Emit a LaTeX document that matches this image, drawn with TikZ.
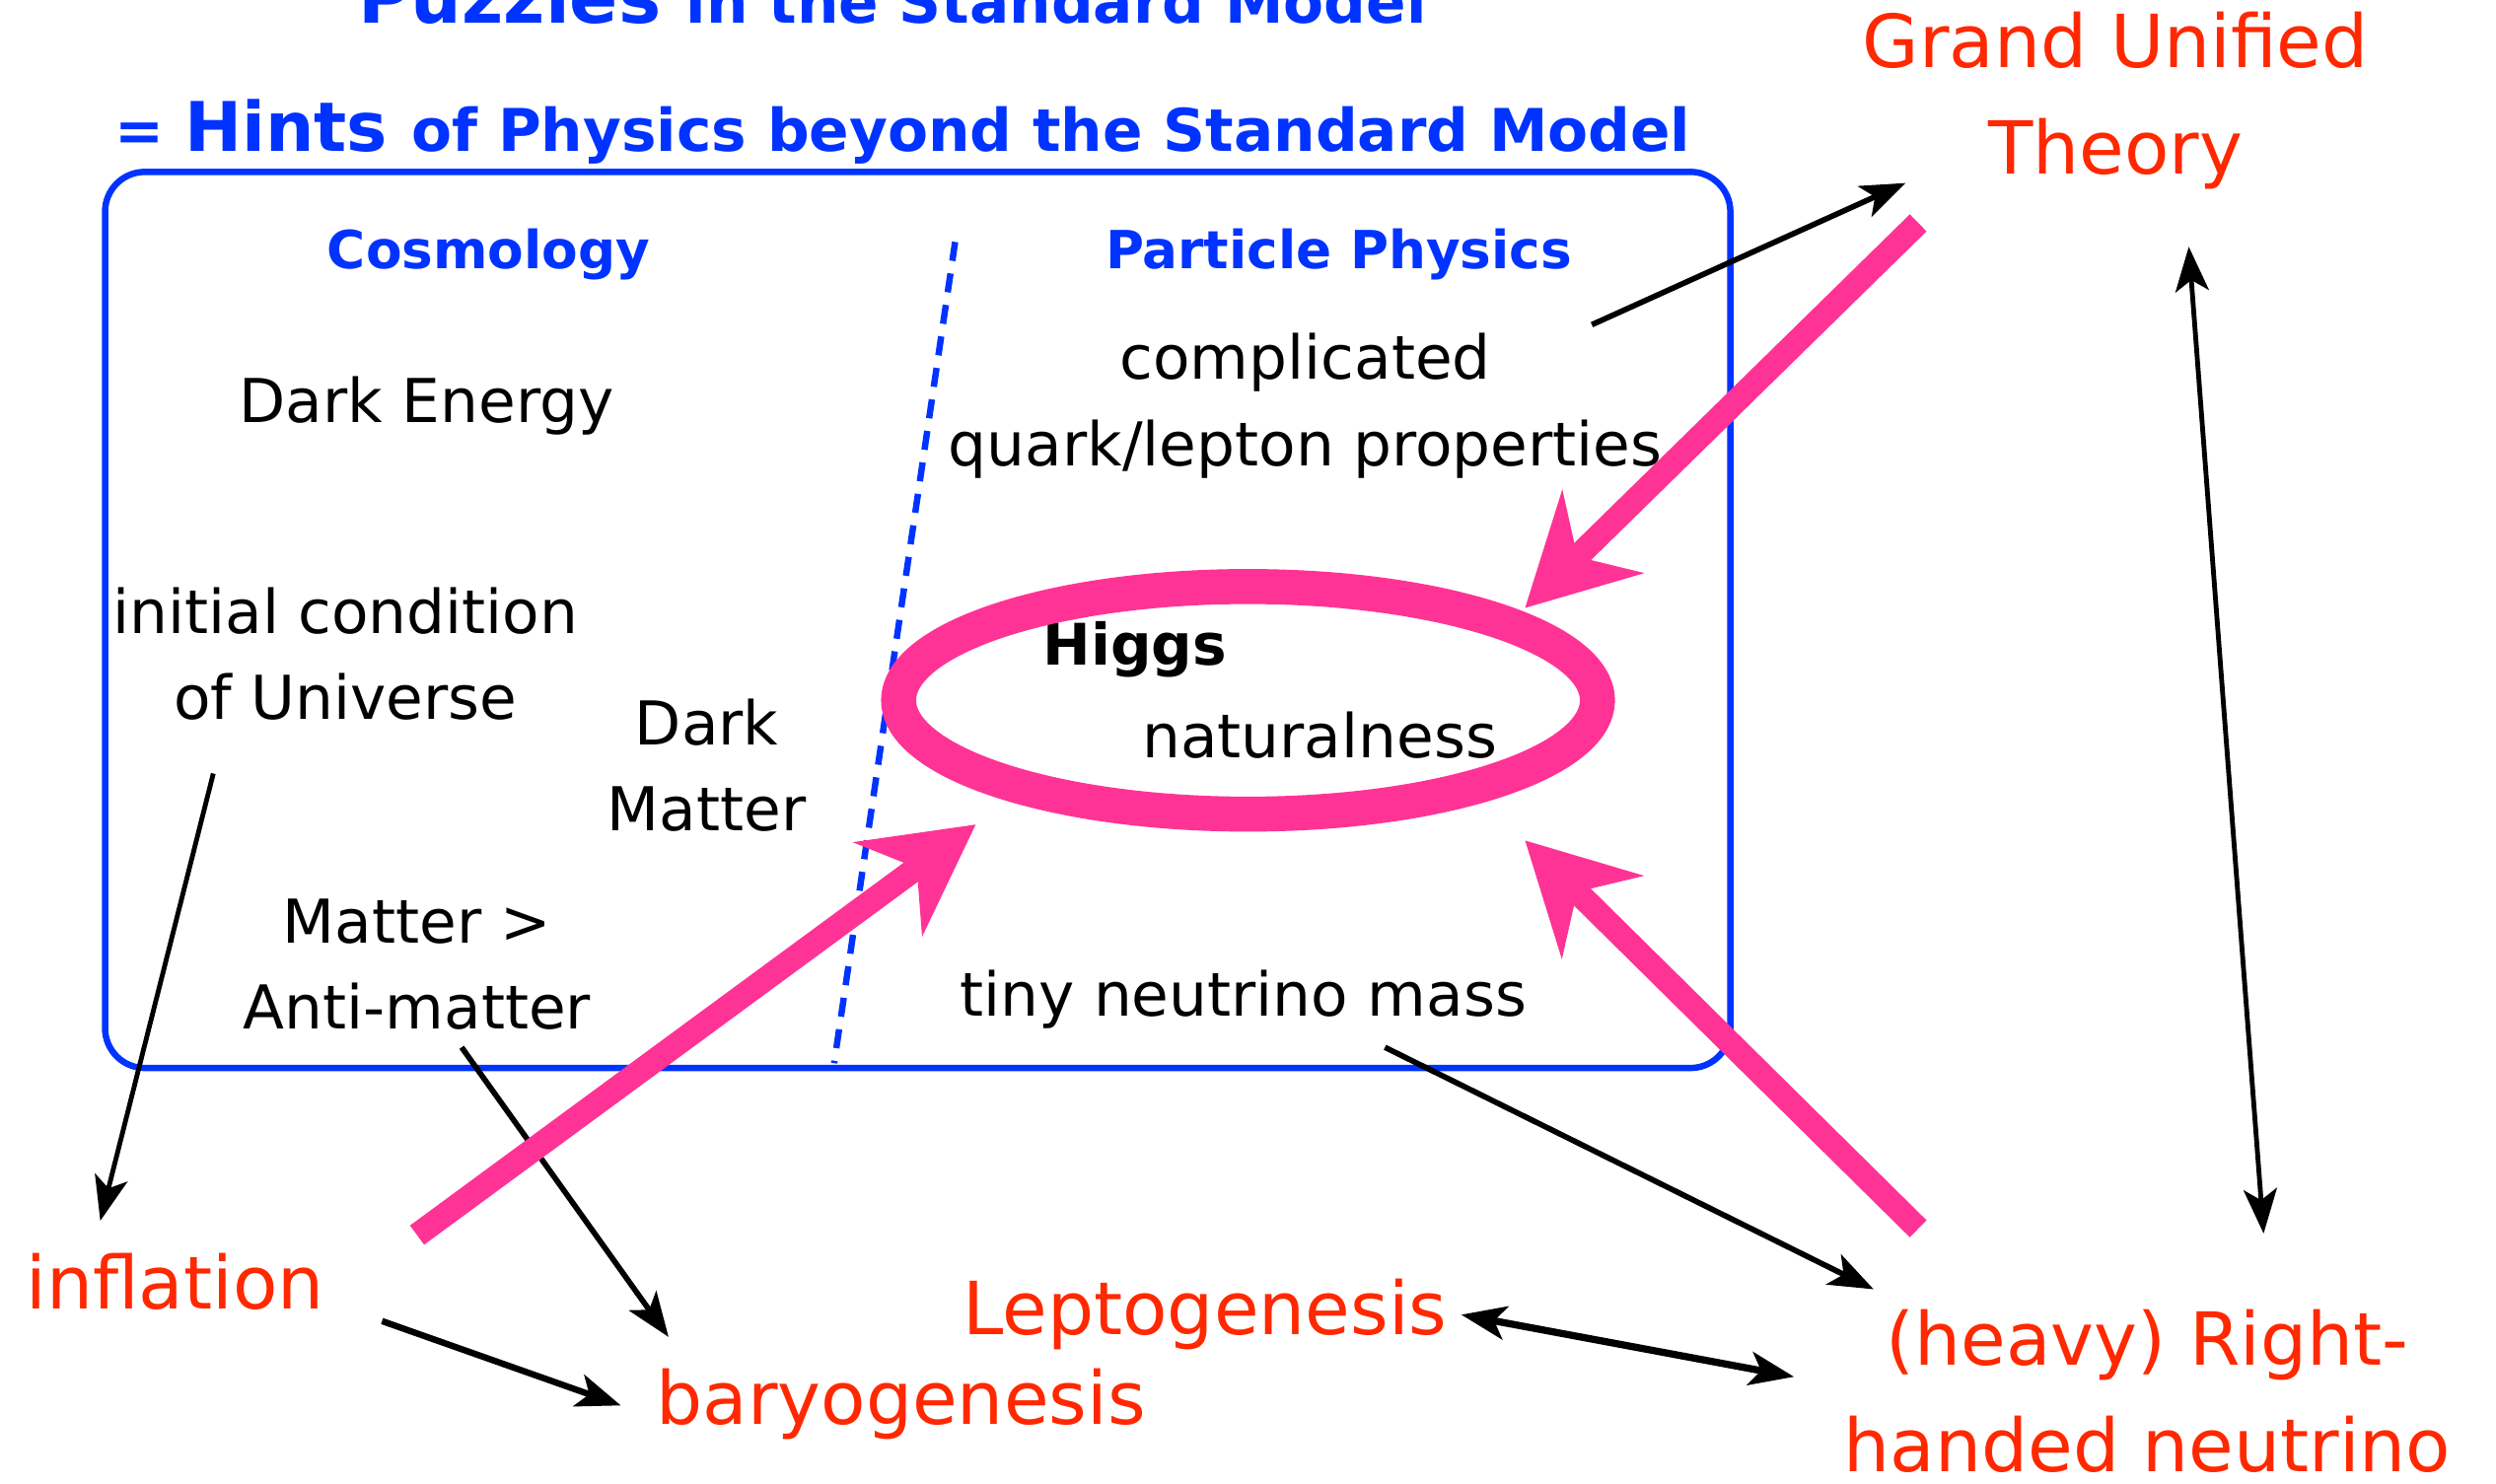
\documentclass[tikz,border=0pt]{standalone}
\usepackage{fontspec}
\setmainfont{DejaVu Sans}
\usetikzlibrary{arrows.meta,shapes.geometric}
\definecolor{hblue}{RGB}{0,51,255}
\definecolor{hred}{RGB}{255,40,0}
\definecolor{hpink}{RGB}{255,51,150}
\begin{document}
\begin{tikzpicture}[x=1pt,y=-1pt,
  blk/.style={font=\fontsize{38}{54}\selectfont, align=center, inner sep=0pt},
  redtxt/.style={text=hred, font=\fontsize{46}{67}\selectfont, align=center, inner sep=0pt},
  bluehead/.style={text=hblue, font=\bfseries\fontsize{33}{40}\selectfont, inner sep=0pt},
  blarrow/.style={draw=black, line width=3.5pt, -{Stealth[length=28pt,width=21pt,inset=7pt]}},
  bldouble/.style={draw=black, line width=3.5pt, {Stealth[length=28pt,width=21pt,inset=7pt]}-{Stealth[length=28pt,width=21pt,inset=7pt]}},
  pinkarrow/.style={draw=hpink, line width=15pt, -{Stealth[length=68pt,width=72pt,inset=22pt]}}
]
\useasboundingbox (0,0) rectangle (1568,932);
\clip (0,0) rectangle (1568,932);

% titles
\node[anchor=base west, text=hblue, inner sep=0pt, font=\bfseries] (t1) at (225,14.5)
  {{\fontsize{45}{50}\selectfont Puzzles\ }{\fontsize{37}{44}\selectfont in the Standard Model}};
\node[anchor=base west, text=hblue, inner sep=0pt, font=\bfseries] (t2) at (72,95)
  {{\fontsize{37}{44}\selectfont =\ }{\fontsize{43}{50}\selectfont Hints\ }{\fontsize{37}{44}\selectfont of Physics beyond the Standard Model}};

% box and divider
\draw[hblue, line width=4pt, rounded corners=25pt] (66,108) rectangle (1087,671);
\draw[hblue, line width=4pt, dash pattern=on 12pt off 8pt] (600,152) -- (524,668);

% headings and texts
\node[bluehead] (cosmo) at (307,160) {Cosmology};
\node[bluehead] (pp) at (841,160) {Particle Physics};
\node[blk] (de) at (268,255) {Dark Energy};
\node[blk] (ic) at (217,411) {initial condition\\of Universe};
\node[blk] (dm) at (444,481) {Dark\\Matter};
\node[blk] (mam) at (262,606) {Matter >\\Anti-matter};
\node[blk] (cq) at (820,255) {complicated\\quark/lepton properties};
\node[blk, font=\bfseries\fontsize{36}{40}\selectfont] (higgs) at (713,408) {Higgs};
\node[blk] (nat) at (829,462) {naturalness};
\node[blk] (tiny) at (781,628) {tiny neutrino mass};

\node[redtxt] (gut) at (1329,63) {Grand Unified\\Theory};
\node[redtxt] (infl) at (110,805) {inflation};
\node[redtxt] (lepto) at (757,826) {Leptogenesis};
\node[redtxt] (baryo) at (566,882) {baryogenesis};
\node[redtxt] (rhn) at (1349,874) {(heavy) Right-\\handed neutrino};

% connector end points
\coordinate (a1s) at (1000,204); \coordinate (a1e) at (1197,115);
\coordinate (a2s) at (1375,155); \coordinate (a2e) at (1422,775);
\coordinate (a3s) at (134,486);  \coordinate (a3e) at (63,767);
\coordinate (a4s) at (290,658);  \coordinate (a4e) at (420,840);
\coordinate (a5s) at (240,830);  \coordinate (a5e) at (390,883);
\coordinate (a6s) at (870,658);  \coordinate (a6e) at (1177,810);
\coordinate (a7s) at (918,826);  \coordinate (a7e) at (1127,865);
\coordinate (pAs) at (1205,140); \coordinate (pAe) at (958,382);
\coordinate (pBs) at (262,776);  \coordinate (pBe) at (613,518);
\coordinate (pCs) at (1205,772); \coordinate (pCe) at (958,528);

% black arrows
\draw[blarrow] (a1s) -- (a1e);
\draw[bldouble, line width=3pt] (a2s) -- (a2e);
\draw[blarrow, line width=3pt] (a3s) -- (a3e);
\draw[blarrow] (a4s) -- (a4e);
\draw[blarrow, line width=4pt] (a5s) -- (a5e);
\draw[blarrow] (a6s) -- (a6e);
\draw[bldouble, line width=4.5pt] (a7s) -- (a7e);

% Higgs ring and pink arrows
\node[draw=hpink, line width=22pt, ellipse, minimum width=439pt, minimum height=143pt, inner sep=0pt] (ring) at (784,440) {};
\draw[pinkarrow] (pAs) -- (pAe);
\draw[pinkarrow] (pBs) -- (pBe);
\draw[pinkarrow] (pCs) -- (pCe);
\end{tikzpicture}
\end{document}
